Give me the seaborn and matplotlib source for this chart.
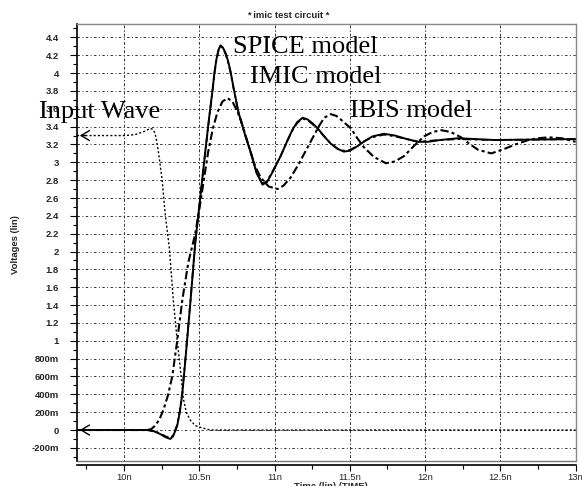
import matplotlib
matplotlib.use("Agg")
import matplotlib.pyplot as plt
import matplotlib.transforms as mtrans
import seaborn as sns
import pandas as pd

# ---------------- data (time in ns, voltage in V) ----------------
t_input = [9.687, 10.0, 10.073, 10.14, 10.173, 10.19, 10.205, 10.215, 10.227, 10.253,
           10.273, 10.3, 10.327, 10.353, 10.373, 10.393, 10.413, 10.44, 10.473, 10.507,
           10.573, 13.0]
v_input = [3.30, 3.30, 3.31, 3.35, 3.38, 3.37, 3.33, 3.25, 3.13, 2.80,
           2.42, 2.05, 1.46, 1.00, 0.70, 0.36, 0.20, 0.11, 0.05, 0.03,
           0.0, 0.0]

t_spice = [9.687, 10.153, 10.2, 10.24, 10.275, 10.307, 10.325, 10.34, 10.353, 10.37,
           10.387, 10.407, 10.44, 10.473, 10.507, 10.54, 10.565, 10.587, 10.6, 10.613,
           10.627, 10.64, 10.655, 10.673, 10.69, 10.707, 10.727, 10.76, 10.8, 10.84,
           10.88, 10.92, 10.95, 10.993, 11.04, 11.087, 11.12, 11.15, 11.187, 11.22,
           11.25, 11.287, 11.33, 11.373, 11.42, 11.46, 11.5, 11.55, 11.6, 11.65,
           11.727, 11.8, 11.88, 11.953, 12.02, 12.1, 12.22, 12.46, 13.0]
v_spice = [0.0, 0.0, -0.015, -0.045, -0.08, -0.10, -0.07, -0.01, 0.05, 0.20,
           0.41, 0.78, 1.42, 2.10, 2.62, 3.13, 3.50, 3.80, 4.00, 4.15,
           4.26, 4.31, 4.29, 4.23, 4.14, 4.02, 3.84, 3.56, 3.33, 3.12,
           2.88, 2.75, 2.78, 2.91, 3.07, 3.25, 3.37, 3.45, 3.50, 3.48,
           3.44, 3.38, 3.29, 3.21, 3.15, 3.12, 3.13, 3.18, 3.24, 3.29,
           3.32, 3.30, 3.26, 3.23, 3.23, 3.25, 3.27, 3.25, 3.26]

t_imic = [9.687, 10.153, 10.2, 10.24, 10.275, 10.307, 10.325, 10.34, 10.353, 10.37,
          10.387, 10.407, 10.44, 10.473, 10.507, 10.54, 10.565, 10.587, 10.6, 10.613,
          10.627, 10.64, 10.655, 10.673, 10.69, 10.707, 10.727, 10.76, 10.8, 10.84,
          10.88, 10.92, 10.95, 10.993, 11.04, 11.087, 11.12, 11.15, 11.187, 11.22,
          11.25, 11.287, 11.33, 11.373, 11.42, 11.46, 11.5, 11.55, 11.6, 11.65,
          11.727, 11.8, 11.88, 11.953, 12.02, 12.1, 12.22, 12.46, 13.0]
v_imic = [0.0, 0.0, -0.01, -0.04, -0.07, -0.09, -0.06, 0.0, 0.06, 0.21,
          0.43, 0.80, 1.43, 2.11, 2.62, 3.12, 3.49, 3.79, 3.99, 4.14,
          4.25, 4.30, 4.28, 4.22, 4.13, 4.01, 3.83, 3.56, 3.33, 3.12,
          2.89, 2.76, 2.79, 2.92, 3.07, 3.25, 3.36, 3.44, 3.49, 3.47,
          3.43, 3.37, 3.29, 3.21, 3.15, 3.13, 3.14, 3.18, 3.24, 3.28,
          3.31, 3.29, 3.26, 3.23, 3.24, 3.25, 3.26, 3.25, 3.26]

t_ibis = [9.687, 10.153, 10.18, 10.207, 10.235, 10.26, 10.29, 10.32, 10.353, 10.387,
          10.427, 10.473, 10.507, 10.535, 10.56, 10.59, 10.62, 10.653, 10.687, 10.72,
          10.753, 10.78, 10.807, 10.84, 10.87, 10.907, 10.96, 11.02, 11.06, 11.107,
          11.16, 11.22, 11.293, 11.33, 11.373, 11.41, 11.44, 11.507, 11.55, 11.593,
          11.66, 11.74, 11.8, 11.86, 11.93, 11.993, 12.05, 12.107, 12.17, 12.24,
          12.3, 12.353, 12.44, 12.527, 12.6, 12.687, 12.75, 12.82, 12.907, 13.0]
v_ibis = [0.0, 0.0, 0.01, 0.05, 0.12, 0.22, 0.38, 0.60, 1.00, 1.46,
          1.88, 2.20, 2.55, 2.86, 3.13, 3.38, 3.56, 3.68, 3.72, 3.68,
          3.57, 3.45, 3.30, 3.12, 2.96, 2.83, 2.73, 2.70, 2.74, 2.83,
          2.98, 3.17, 3.40, 3.50, 3.54, 3.52, 3.48, 3.38, 3.27, 3.17,
          3.06, 2.99, 3.01, 3.07, 3.19, 3.29, 3.34, 3.36, 3.34, 3.28,
          3.20, 3.14, 3.10, 3.15, 3.20, 3.25, 3.27, 3.28, 3.27, 3.23]

x_ticks = [10.0, 10.5, 11.0, 11.5, 12.0, 12.5, 13.0]
x_labels = ["10n", "10.5n", "11n", "11.5n", "12n", "12.5n", "13n"]
y_ticks = [-0.2, 0.0, 0.2, 0.4, 0.6, 0.8, 1.0, 1.2, 1.4, 1.6, 1.8, 2.0, 2.2,
           2.4, 2.6, 2.8, 3.0, 3.2, 3.4, 3.6, 3.8, 4.0, 4.2, 4.4]
y_labels = ["-200m", "0", "200m", "400m", "600m", "800m", "1", "1.2", "1.4", "1.6",
            "1.8", "2", "2.2", "2.4", "2.6", "2.8", "3", "3.2", "3.4", "3.6", "3.8",
            "4", "4.2", "4.4"]

title = "* imic test circuit *"
x_title = "Time (lin) (TIME)"
y_title = "Voltages (lin)"
annotations = ["SPICE model", "IMIC model", "IBIS model", "Input Wave"]

# ---------------- figure ----------------
sns.set_theme(style="white")
plt.rcParams["font.family"] = ["Liberation Sans", "DejaVu Sans"]

W, H = 582, 486
fig = plt.figure(figsize=(W / 100, H / 100), dpi=100)
fig.patch.set_facecolor("white")


def fx(px):
    return px / W


def fy(py):
    return 1 - py / H


ax = fig.add_axes([fx(77), fy(461), fx(576) - fx(77), fy(24) - fy(461)])
ax.set_facecolor("white")

df_in = pd.DataFrame({"t": t_input, "v": v_input})
df_sp = pd.DataFrame({"t": t_spice, "v": v_spice})
df_im = pd.DataFrame({"t": t_imic, "v": v_imic})
df_ib = pd.DataFrame({"t": t_ibis, "v": v_ibis})

sns.lineplot(data=df_in, x="t", y="v", ax=ax, color="black", lw=1.0,
             estimator=None, sort=False, zorder=4).lines[-1].set_dashes([1.5, 1.5])
sns.lineplot(data=df_sp, x="t", y="v", ax=ax, color="black", lw=1.4,
             estimator=None, sort=False, zorder=5)
l_im = sns.lineplot(data=df_im, x="t", y="v", ax=ax, color="black", lw=1.3,
                    estimator=None, sort=False, zorder=6).lines[-1]
l_im.set_dashes([4, 2, 1.5, 2])
l_ib = sns.lineplot(data=df_ib, x="t", y="v", ax=ax, color="black", lw=1.5,
                    estimator=None, sort=False, zorder=6).lines[-1]
l_ib.set_dashes([4, 1.5, 1.5, 1.5])
for ln in ax.lines:
    ln.set_solid_joinstyle("round")
    ln.set_dash_joinstyle("round")

# chevrons at the left edge
for v0 in (v_input[0], v_spice[0]):
    ax.annotate("", xy=(t_input[0], v0), xytext=(8, 0), textcoords="offset points",
                arrowprops=dict(arrowstyle="->,head_length=0.5,head_width=0.3",
                                lw=1.0, color="black"), zorder=7)

ax.set_xlim(9.687, 13.003)
ax.set_ylim(-0.347, 4.55)

# grid
for yv in y_ticks:
    ax.axhline(yv, color="#333333", lw=0.7, dashes=[2.5, 2.5, 1, 2.5], zorder=1)
for xv in x_ticks[:-1]:
    ax.axvline(xv, color="#333333", lw=0.7, dashes=[1.5, 2, 3, 2], zorder=1)

ax.set_xticks(x_ticks, labels=x_labels)
ax.set_yticks(y_ticks, labels=y_labels)
ax.set_xticks([9.75, 10.25, 10.75, 11.25, 11.75, 12.25, 12.75], minor=True)
ax.set_yticks([v / 10 for v in range(-3, 46, 2)], minor=True)
ax.tick_params(axis="y", which="major", direction="out", length=5, width=0.8,
               labelsize=6.8, color="black", pad=8)
ax.tick_params(axis="y", which="minor", direction="out", length=3, width=0.8,
               color="black")
ax.tick_params(axis="x", which="major", direction="out", length=4, width=0.8,
               labelsize=6.8, color="black", pad=1.5)
ax.tick_params(axis="x", which="minor", direction="out", length=3, width=0.8,
               color="black")
ax.tick_params(bottom=True, left=True, which="both")
for lab in ax.get_xticklabels() + ax.get_yticklabels():
    lab.set_fontweight("bold")
last = ax.get_xticklabels()[-1]
last.set_transform(last.get_transform() +
                   mtrans.ScaledTranslation(0, -4 / 100, fig.dpi_scale_trans))

for s in ("top", "right"):
    ax.spines[s].set_color("#888888")
    ax.spines[s].set_linewidth(1.0)
ax.spines["left"].set_color("black")
ax.spines["left"].set_linewidth(1.2)
ax.spines["bottom"].set_color("black")
ax.spines["bottom"].set_linewidth(1.2)
ax.spines["bottom"].set_position(("outward", 3))
ax.plot([0, 1], [0, 0], transform=ax.transAxes, color="#777777", lw=1.0,
        clip_on=False, zorder=2)

ax.set_xlabel("")
ax.set_ylabel("")
fig.text(fx(331), fy(486), x_title, ha="center", va="center", fontsize=6.8,
         fontweight="bold")
fig.text(fx(15), fy(245), y_title, ha="center", va="center", fontsize=6.8,
         fontweight="bold", rotation=90)
fig.text(fx(288), fy(16), title, ha="center", va="center", fontsize=6.8,
         fontweight="bold")

serif = ["Liberation Serif", "DejaVu Serif"]
pos = [(233, 53), (250, 83), (350, 117), (39, 118)]
for txt, (px, py) in zip(annotations, pos):
    fig.text(fx(px), fy(py), txt, ha="left", va="baseline", fontsize=19,
             family=serif, color="black", zorder=10)

fig.savefig("out.png", dpi=100, facecolor="white")
